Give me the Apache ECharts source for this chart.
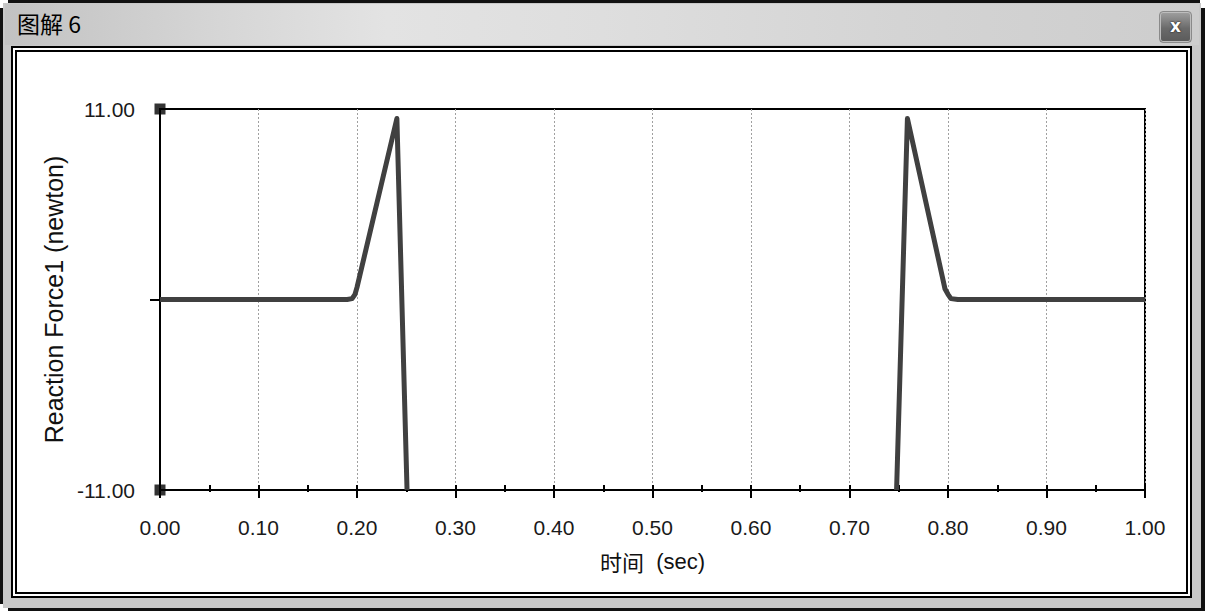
<!DOCTYPE html>
<html><head><meta charset="utf-8">
<script src="https://cdn.jsdelivr.net/npm/echarts@6/dist/echarts.min.js"></script>
<style>
html,body{margin:0;padding:0;width:1205px;height:611px;overflow:hidden;background:#fff;}
.abs{position:absolute;box-sizing:border-box;}
#win{left:3px;top:3px;width:1198px;height:605px;background:#c8c8c8;}
#bT{left:8px;top:0;width:1192px;height:3px;background:#111;}
#bL{left:0;top:8px;width:3px;height:596px;background:#111;}
#bR{left:1201px;top:8px;width:4px;height:603px;background:#111;}
#bB{left:8px;top:608px;width:1197px;height:3px;background:#111;}
#title{left:5px;top:4px;width:1194px;height:41px;
  background:linear-gradient(to right,#c2c2c2 0%,#d6d6d6 18%,#e3e3e3 32%,#dedede 50%,#d4d4d4 75%,#cdcdcd 100%);}
#titleText{left:17px;top:8px;font-family:"Noto Sans CJK SC","Liberation Sans",sans-serif;font-size:23px;line-height:31px;color:#000;}
#close{left:1159px;top:11px;width:33px;height:32px;border-radius:4px;border:1px solid #8a8a8a;
  background:linear-gradient(#a0a0a0,#6a6a6a 55%,#5a5a5a);box-shadow:inset 0 0 0 1px #bdbdbd;
  font-family:"DejaVu Sans",sans-serif;font-weight:bold;font-size:17px;line-height:29px;text-align:center;color:#fff;
  text-shadow:0 0 2px #222,0 0 1px #222;}
#p1{left:11px;top:46px;width:1181px;height:552px;border:2px solid #000;background:#fff;}
#p2{left:15px;top:50px;width:1173px;height:544px;border:2px solid #000;background:#fff;}
#chart{left:0;top:0;width:1205px;height:611px;}
</style></head>
<body>
<div class="abs" id="bT"></div><div class="abs" id="bL"></div><div class="abs" id="bR"></div><div class="abs" id="bB"></div>
<div class="abs" id="win"></div>
<div class="abs" id="title"></div>
<div class="abs" id="titleText">图解 6</div>
<div class="abs" id="close">x</div>
<div class="abs" id="p1"></div>
<div class="abs" id="p2"></div>
<div class="abs" id="chart"></div>
<script>
// time (sec) and Reaction Force1 (newton); null = curve off-scale below -11
const timeSec = [0, 0.19, 0.195, 0.198, 0.2, 0.2405, 0.2508, 0.5, 0.7478, 0.7588, 0.797, 0.8, 0.803, 0.81, 1.0];
const forceN  = [0, 0,    0.05,  0.3,   0.7, 10.45,  -11,    null, -11,   10.45,  0.6,   0.3, 0.05,  0,    0];
const cornerMarkTimes = [0, 0];
const cornerMarkValues = [11, -11];
const xTickLabels = ['0.00','0.10','0.20','0.30','0.40','0.50','0.60','0.70','0.80','0.90','1.00'];
const yTickValues = [-11, 11];
const yTickLabels = ['-11.00', '11.00'];
const yTickMarks = [0];

const FONT = '"Liberation Sans","Noto Sans CJK SC",sans-serif';
const lineData = timeSec.map((t, i) => [t, forceN[i]]);
const markData = cornerMarkTimes.map((t, i) => [t, cornerMarkValues[i]]);

const chart = echarts.init(document.getElementById('chart'), null, {renderer: 'svg'});
const xCommon = {type: 'value', min: 0, max: 1, interval: 0.1, position: 'bottom'};
chart.setOption({
  animation: false,
  backgroundColor: 'transparent',
  grid: {left: 160, top: 109, width: 985, height: 381, show: true, borderColor: '#000', borderWidth: 2, backgroundColor: 'transparent'},
  xAxis: [
    Object.assign({}, xCommon, {
      axisLine: {onZero: false, lineStyle: {color: '#000', width: 2}},
      axisTick: {show: true, inside: false, length: 8, lineStyle: {color: '#000', width: 2}},
      minorTick: {show: true, splitNumber: 2, length: 2, lineStyle: {color: '#000', width: 2}},
      splitLine: {show: true, lineStyle: {type: [2, 2], color: '#a0a0a0', width: 1}},
      axisLabel: {margin: 27, fontSize: 21, color: '#1a1a1a', fontFamily: FONT,
        formatter: v => xTickLabels[Math.round(v * 10)]},
      name: '{a|时间}{b|  (sec)}', nameLocation: 'middle', nameGap: 60,
      nameTextStyle: {color: '#111', fontFamily: FONT, rich: {
        a: {fontSize: 22, fontFamily: '"Noto Sans CJK SC",sans-serif', color: '#111'},
        b: {fontSize: 22, fontFamily: FONT, color: '#111'}}}
    }),
    Object.assign({}, xCommon, {
      axisLine: {show: false, onZero: false},
      axisTick: {show: true, inside: true, length: 5, lineStyle: {color: '#000', width: 2}},
      minorTick: {show: true, splitNumber: 2, length: 5, lineStyle: {color: '#000', width: 2}},
      splitLine: {show: false}, axisLabel: {show: false}
    })
  ],
  yAxis: {
    type: 'value', min: -11, max: 11, interval: 11,
    axisLine: {onZero: false, lineStyle: {color: '#000', width: 2}},
    axisTick: {show: true, customValues: yTickMarks, length: 10, lineStyle: {color: '#000', width: 2}},
    axisLabel: {customValues: yTickValues, margin: 25, fontSize: 21, color: '#1a1a1a', fontFamily: FONT,
      formatter: v => yTickLabels[yTickValues.indexOf(v)] || ''},
    splitLine: {show: false},
    name: 'Reaction Force1 (newton)', nameLocation: 'middle', nameGap: 94,
    nameTextStyle: {fontSize: 25, color: '#111', fontFamily: FONT}
  },
  series: [
    {type: 'line', xAxisIndex: 0, data: lineData, showSymbol: false, connectNulls: false, clip: true,
      lineStyle: {color: '#404040', width: 5, join: 'round'}, z: 3},
    {type: 'scatter', xAxisIndex: 0, data: markData, symbol: 'rect', symbolSize: 11, clip: false,
      itemStyle: {color: '#000'}, z: 5}
  ]
});
</script>
</body></html>
